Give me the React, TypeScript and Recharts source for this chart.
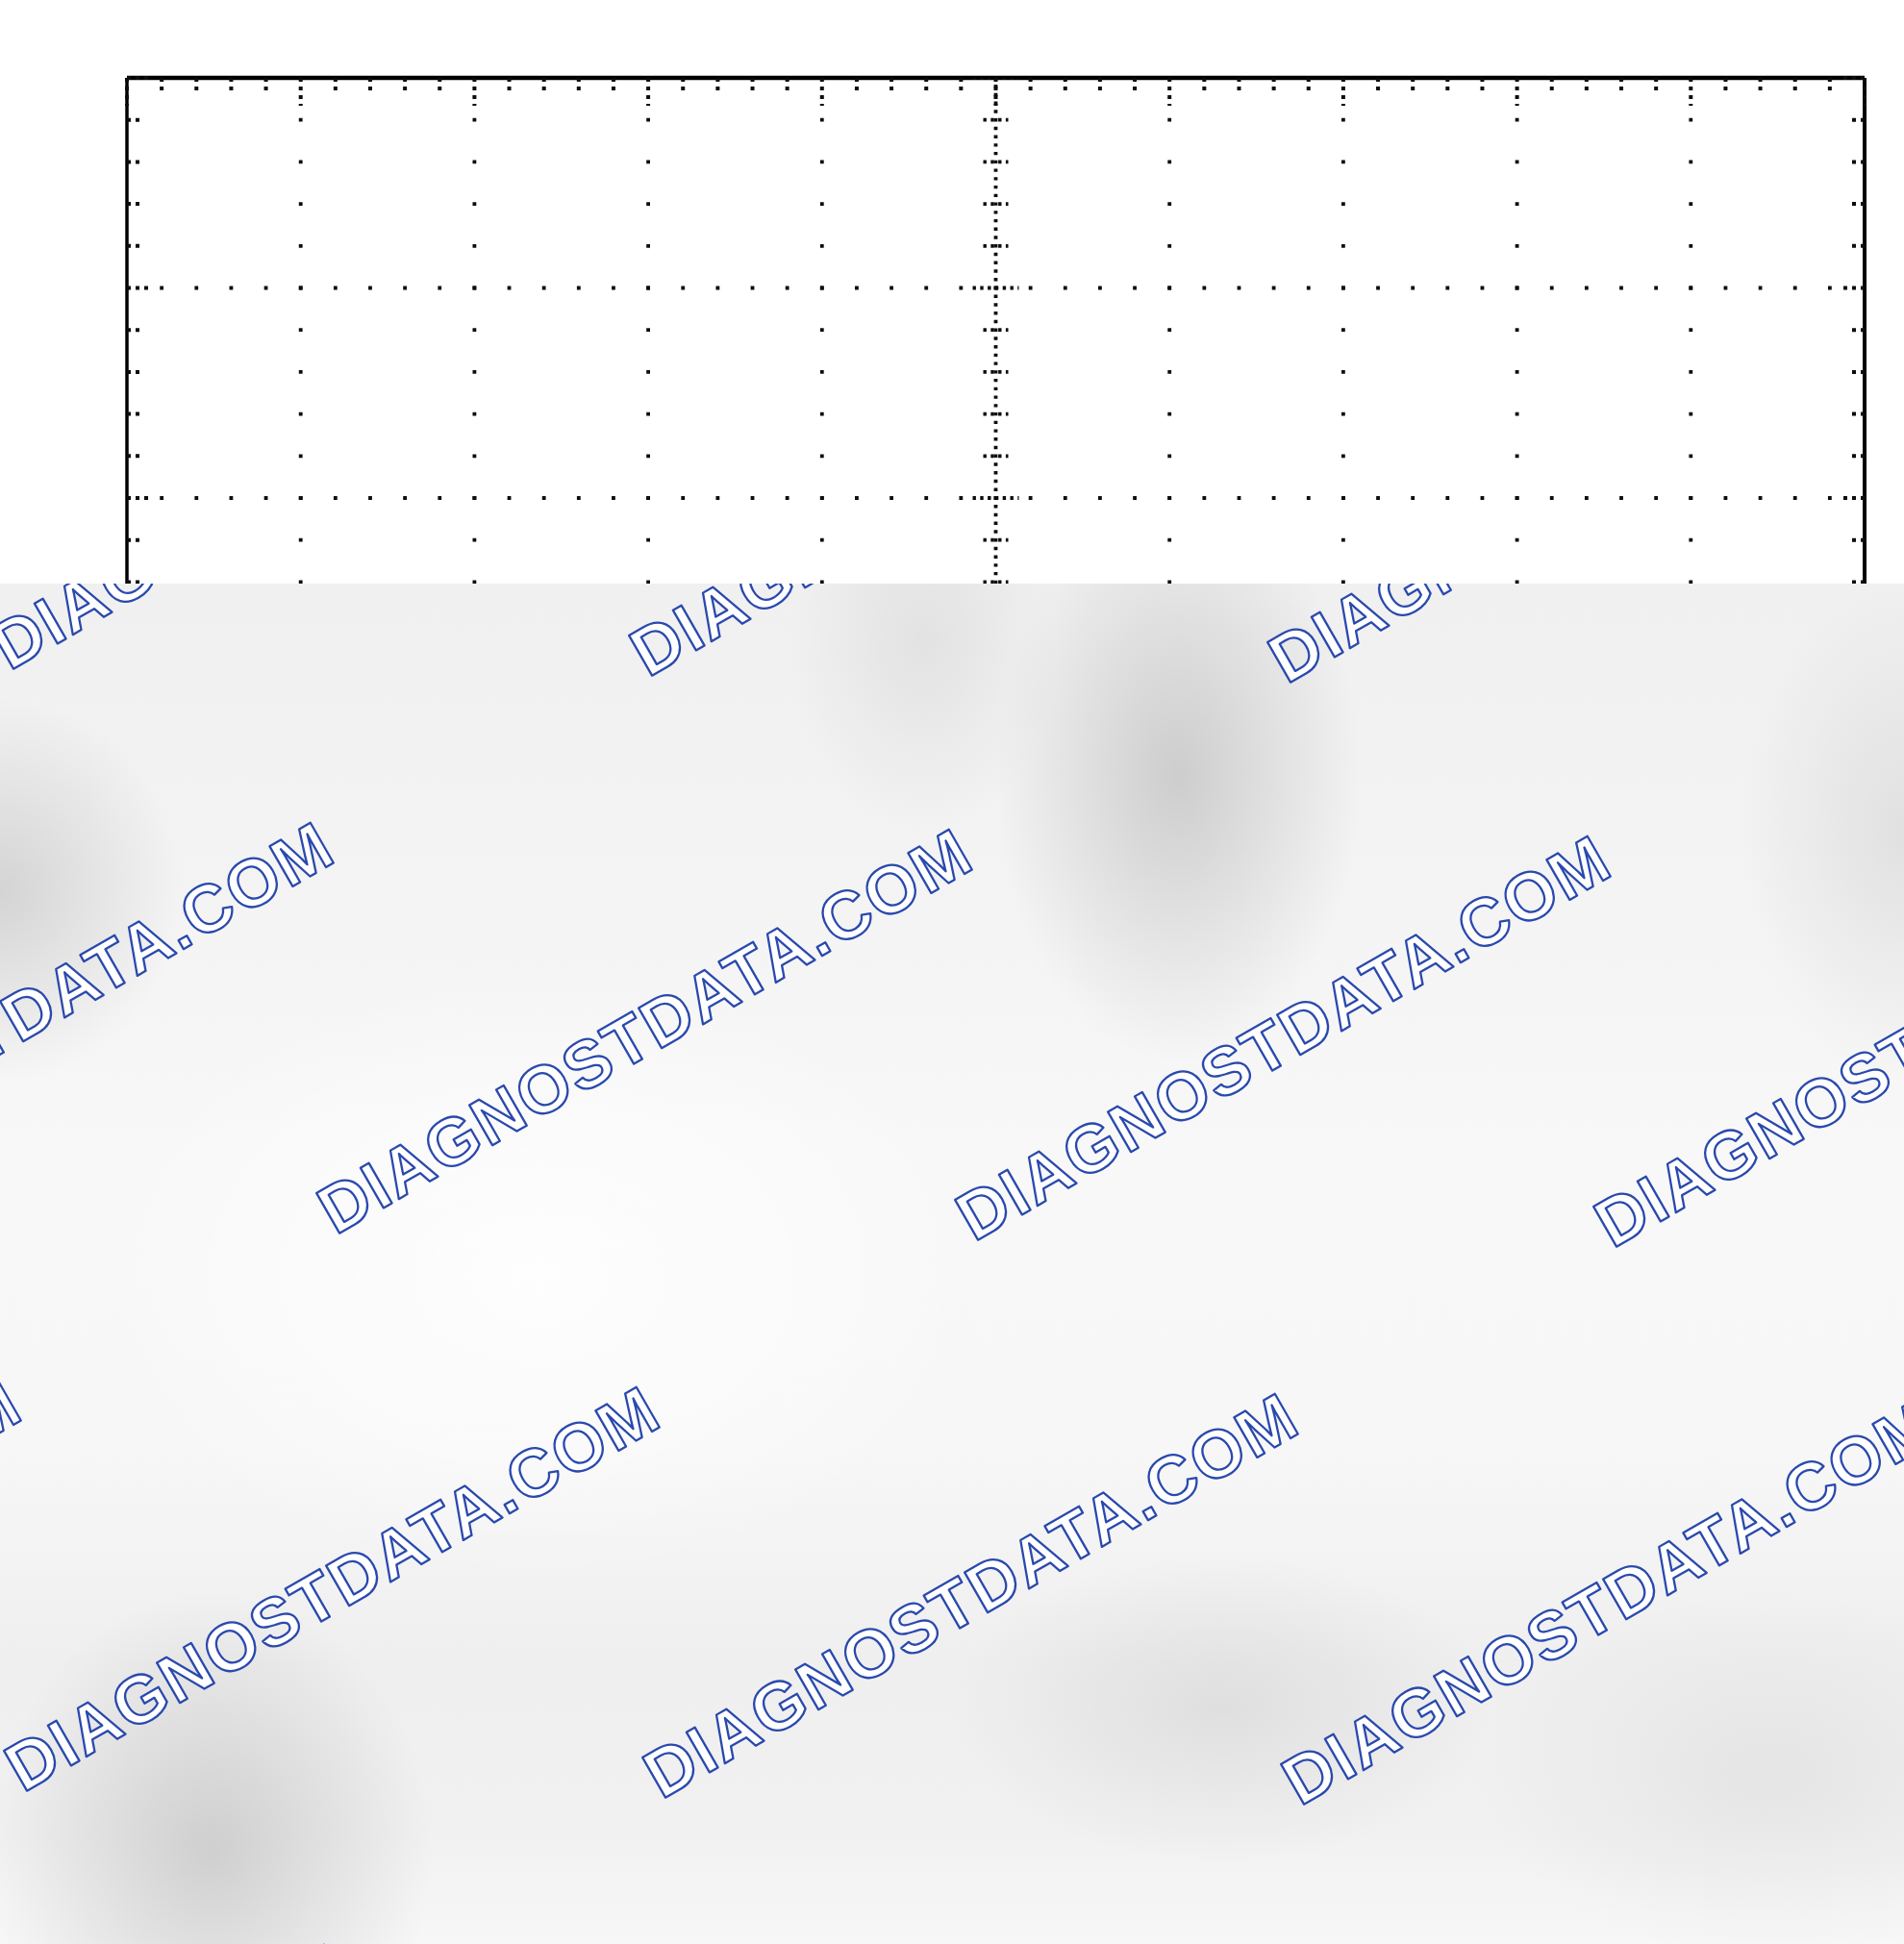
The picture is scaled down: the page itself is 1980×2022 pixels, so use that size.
import React from 'react';
import { ScatterChart, Scatter, XAxis, YAxis, ReferenceLine } from 'recharts';

// screen geometry of the scope graticule
const W = 1980;
const H = 2022;
const MARGIN = { top: 80, right: 40, bottom: 192, left: 131 };
const PLOT_W = 1807; // 10 div, 132..1939
const PLOT_H = 1748; // 8 div, 81..1829
const SHADE_TOP = 607;

// graticule in sub-division units (5 per division)
const xMinorTicks = [
  0, 1, 2, 3, 4, 5, 6, 7, 8, 9, 10, 11, 12, 13, 14, 15, 16, 17, 18, 19, 20, 21, 22, 23, 24, 25,
  26, 27, 28, 29, 30, 31, 32, 33, 34, 35, 36, 37, 38, 39, 40, 41, 42, 43, 44, 45, 46, 47, 48, 49, 50,
];
const yMinorTicks = [
  -20, -19, -18, -17, -16, -15, -14, -13, -12, -11, -10, -9, -8, -7, -6, -5, -4, -3, -2, -1, 0,
  1, 2, 3, 4, 5, 6, 7, 8, 9, 10, 11, 12, 13, 14, 15, 16, 17, 18, 19, 20,
];
const xGridLines = [5, 10, 15, 20, 30, 35, 40, 45];
const yGridLines = [-15, -10, -5, 5, 10, 15];
const xCenter = 25;
const yCenter = 0;

// watermark tiling
const WATERMARK = 'DIAGNOSTDATA.COM';
const wmRows = [0, 1, 2, 3];
const wmCols = [-4, -3, -2, -1, 0, 1, 2];

const xStep = PLOT_W / 50;
const yStep = PLOT_H / 40;
const DOT = 3.8;
const INK = '#0d0d0d';

const centerVTicks = yMinorTicks.filter(v => v !== yCenter).map(v => ({ x: xCenter, y: v }));
const centerHTicks = xMinorTicks.filter(v => v !== xCenter).map(v => ({ x: v, y: yCenter }));

const isMajor = (v: number) => v % 5 === 0;
const edgeDash = { stroke: INK, strokeWidth: 4, strokeDasharray: '4 5' };

const TopTick = ({ x, y, payload }: any) => (
  <line x1={x} x2={x} y1={y} y2={y + (isMajor(payload.value) ? 29 : 14)} {...edgeDash} />
);
const BottomTick = ({ x, y, payload }: any) => (
  <line x1={x} x2={x} y1={y} y2={y - (isMajor(payload.value) ? 29 : 14)} {...edgeDash} />
);
const LeftTick = ({ x, y, payload }: any) => (
  <line x1={x} x2={x + (isMajor(payload.value) ? 23 : 14)} y1={y} y2={y} {...edgeDash} />
);
const RightTick = ({ x, y, payload }: any) => (
  <line x1={x} x2={x - (isMajor(payload.value) ? 23 : 14)} y1={y} y2={y} {...edgeDash} />
);

const HTick = (props: any) => {
  const { cx, cy, payload } = props;
  const half = isMajor(payload.y) ? 24 : 13;
  return (
    <line x1={cx - half} x2={cx + half} y1={cy} y2={cy}
      stroke={INK} strokeWidth={DOT} strokeDasharray="3.4 4.4" />
  );
};

const VTick = (props: any) => {
  const { cx, cy, payload } = props;
  const half = isMajor(payload.x) ? 24 : 13;
  return (
    <line x1={cx} x2={cx} y1={cy - half} y2={cy + half}
      stroke={INK} strokeWidth={DOT} strokeDasharray="3.4 4.4" />
  );
};

const blob = (rx: number, ry: number, cx: number, cy: number, g: number, a: number) =>
  `radial-gradient(${rx}px ${ry}px at ${cx}px ${cy}px, rgba(${g},${g},${g},${a}) 0%, rgba(${g},${g},${g},${a * 0.55}) 45%, rgba(${g},${g},${g},0) 100%)`;

const shadeBg = [
  blob(190, 300, 1225, 200, 160, 0.45),
  blob(140, 200, 960, 60, 175, 0.22),
  blob(190, 200, 0, 320, 160, 0.38),
  blob(170, 260, 1980, 260, 170, 0.25),
  blob(230, 270, 220, 1320, 150, 0.38),
  blob(280, 160, 1270, 1170, 165, 0.22),
  blob(300, 190, 1840, 1240, 170, 0.16),
  'radial-gradient(460px 320px at 560px 720px, rgba(255,255,255,0.85), rgba(255,255,255,0))',
  'linear-gradient(180deg, #f0f0f1 0px, #f3f3f4 280px, #f8f8f8 600px, #f7f7f8 900px, #efeff0 1120px, #f1f1f2 1300px, #f7f7f7 1415px)',
].join(', ');

function Watermarks() {
  const marks: React.ReactNode[] = [];
  wmRows.forEach(j => {
    wmCols.forEach(i => {
      const x = 678 + i * 664 + j * 339 - 4;
      const y = 703 + i * 7 + j * 587 + 2 - SHADE_TOP;
      marks.push(
        <text key={`${i}_${j}`} transform={`translate(${x} ${y}) rotate(-29.9)`}
          fontFamily="'Liberation Sans', Arial, sans-serif" fontWeight={700} fontSize={70}
          fill="#ffffff" stroke="#2a49ad" strokeWidth={2.3} strokeLinejoin="round"
          textLength={768} lengthAdjust="spacing">
          {WATERMARK}
        </text>
      );
    });
  });
  return (
    <div style={{ position: 'absolute', left: 0, top: SHADE_TOP, width: W, height: H - SHADE_TOP,
      overflow: 'hidden', background: shadeBg }}>
      <svg width={W} height={H - SHADE_TOP} style={{ display: 'block' }}>{marks}</svg>
    </div>
  );
}

export default function App() {
  return (
    <div style={{ position: 'absolute', left: 0, top: 0, width: W, height: H, background: '#fff', overflow: 'hidden' }}>
      <ScatterChart width={W} height={H} margin={MARGIN}>
        <XAxis xAxisId="top" orientation="top" type="number" dataKey="x" domain={[0, 50]}
          ticks={xMinorTicks} interval={0} height={1} tickSize={0} tickMargin={0}
          tick={TopTick} tickLine={false} axisLine={{ stroke: '#000', strokeWidth: 4.5 }} allowDataOverflow />
        <XAxis xAxisId="bottom" orientation="bottom" type="number" dataKey="x" domain={[0, 50]}
          ticks={xMinorTicks} interval={0} height={1} tickSize={0} tickMargin={0}
          tick={BottomTick} tickLine={false} axisLine={{ stroke: '#000', strokeWidth: 4.5 }} allowDataOverflow />
        <YAxis yAxisId="left" orientation="left" type="number" dataKey="y" domain={[-20, 20]}
          ticks={yMinorTicks} interval={0} width={1} tickSize={0} tickMargin={0}
          tick={LeftTick} tickLine={false} axisLine={{ stroke: '#000', strokeWidth: 3.5 }} allowDataOverflow />
        <YAxis yAxisId="right" orientation="right" type="number" dataKey="y" domain={[-20, 20]}
          ticks={yMinorTicks} interval={0} width={1} tickSize={0} tickMargin={0}
          tick={RightTick} tickLine={false} axisLine={{ stroke: '#000', strokeWidth: 4 }} allowDataOverflow />

        {xGridLines.map(v => (
          <ReferenceLine key={`gx${v}`} x={v} xAxisId="top" yAxisId="left" stroke={INK} strokeWidth={DOT}
            strokeDasharray={`${DOT} ${yStep - DOT}`} strokeDashoffset={DOT / 2} />
        ))}
        {yGridLines.map(v => (
          <ReferenceLine key={`gy${v}`} y={v} xAxisId="top" yAxisId="left" stroke={INK} strokeWidth={DOT}
            strokeDasharray={`${DOT} ${xStep - DOT}`} strokeDashoffset={DOT / 2} />
        ))}
        <ReferenceLine x={xCenter} xAxisId="top" yAxisId="left" stroke={INK} strokeWidth={DOT}
          strokeDasharray={`3.4 ${yStep / 5 - 3.4}`} strokeDashoffset={1.7} />
        <ReferenceLine y={yCenter} xAxisId="top" yAxisId="left" stroke={INK} strokeWidth={DOT}
          strokeDasharray={`3.4 ${xStep / 5 - 3.4}`} strokeDashoffset={1.7} />

        <Scatter data={centerVTicks} xAxisId="top" yAxisId="left" shape={HTick} isAnimationActive={false} />
        <Scatter data={centerHTicks} xAxisId="top" yAxisId="left" shape={VTick} isAnimationActive={false} />
        <Scatter data={[]} xAxisId="bottom" yAxisId="right" isAnimationActive={false} />
      </ScatterChart>
      <Watermarks />
    </div>
  );
}
